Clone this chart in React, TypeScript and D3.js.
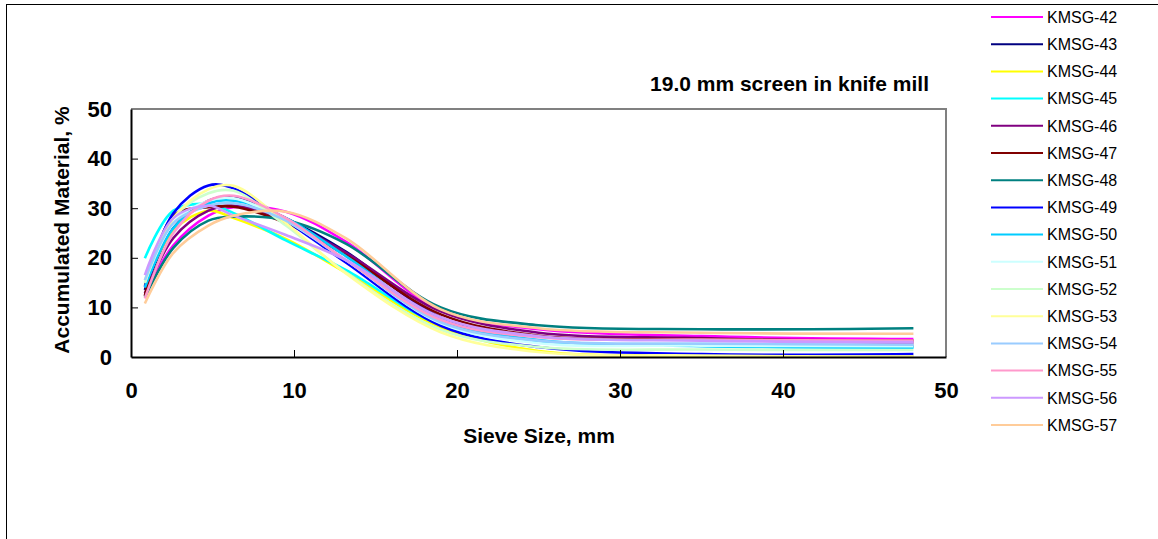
import React, { useRef, useEffect } from "react";
import * as d3 from "d3";

// sieve sizes (mm) where the curves are sampled
const sieveSizes = [0.85, 2.6, 4.75, 6.3, 9.5, 13.2, 19, 25, 35, 48];

const seriesNames = [
  "KMSG-42", "KMSG-43", "KMSG-44", "KMSG-45", "KMSG-46", "KMSG-47", "KMSG-48", "KMSG-49",
  "KMSG-50", "KMSG-51", "KMSG-52", "KMSG-53", "KMSG-54", "KMSG-55", "KMSG-56", "KMSG-57",
];

const seriesColors = [
  "#ff00ff", "#000080", "#ffff00", "#00ffff", "#800080", "#800000", "#008080", "#0000ff",
  "#00ccff", "#ccffff", "#ccffcc", "#ffff99", "#99ccff", "#ff99cc", "#cc99ff", "#ffcc99",
];

const kmsg42 = [12.5, 22.5, 28.5, 30.2, 29.3, 23.2, 9.3, 5.6, 4.2, 3.6];
const kmsg43 = [13.5, 26, 31.5, 32.3, 28, 21.2, 8, 3.2, 2.5, 2.2];
const kmsg44 = [14.5, 25.5, 29.5, 28, 23.8, 17, 6, 1.2, 0.3, 0.1];
const kmsg45 = [19.9, 29.5, 30.8, 29, 23.5, 17.5, 6.5, 3.2, 2.3, 2.0];
const kmsg46 = [12.8, 24, 29.5, 30.5, 27.5, 21, 9.2, 4.9, 3.8, 2.8];
const kmsg47 = [12.3, 28.5, 30.2, 30.3, 27, 20.5, 8.6, 4.3, 3.6, 3.3];
const kmsg48 = [12, 22, 27.5, 28.3, 27.6, 22.8, 10, 6.4, 5.6, 5.8];
const kmsg49 = [14.2, 29, 34.6, 34, 27.5, 19, 6.3, 2.0, 0.6, 0.6];
const kmsg50 = [14, 26, 31, 31.5, 28, 20.3, 7.5, 3.4, 2.2, 1.9];
const kmsg51 = [15, 27, 31.5, 32, 27.5, 19.5, 6.8, 2.8, 2.3, 2.2];
const kmsg52 = [15, 28, 33, 33.5, 26.5, 17, 5.5, 2.0, 1.5, 1.4];
const kmsg53 = [15.5, 28, 33.8, 34.5, 27, 16.8, 5, 1.0, 0.3, 0.1];
const kmsg54 = [15.5, 27, 30.5, 31, 27.5, 19.5, 7, 3.3, 2.7, 2.5];
const kmsg55 = [11.8, 25, 31.5, 32.5, 28, 19.5, 7.5, 4, 3.5, 3.3];
const kmsg56 = [16.5, 28, 30.5, 28.5, 24.6, 19.5, 8, 4.2, 3.3, 3.0];
const kmsg57 = [10.8, 21, 26.5, 28.5, 29.3, 23.9, 9.6, 5.8, 4.9, 4.7];

const seriesValues = [
  kmsg42, kmsg43, kmsg44, kmsg45, kmsg46, kmsg47, kmsg48, kmsg49,
  kmsg50, kmsg51, kmsg52, kmsg53, kmsg54, kmsg55, kmsg56, kmsg57,
];

const xTicks = [0, 10, 20, 30, 40, 50];
const yTicks = [0, 10, 20, 30, 40, 50];

const FONT = "'Liberation Sans', Arial, sans-serif";

function App() {
  const svgRef = useRef(null);
  const width = 1158;
  const height = 539;

  useEffect(() => {
    const svg = d3.select(svgRef.current);
    svg.selectAll("*").remove();

    const xScale = d3.scaleLinear().domain([0, 50]).range([131, 946]);
    const yScale = d3.scaleLinear().domain([0, 50]).range([357, 109]);

    // outer chart frame
    svg
      .append("rect")
      .attr("x", 6.5)
      .attr("y", 4.5)
      .attr("width", width + 20)
      .attr("height", height + 20)
      .attr("fill", "white")
      .attr("stroke", "black")
      .attr("stroke-width", 1);

    // plot area border (top / right grey)
    svg
      .append("path")
      .attr("d", `M${xScale(0)},${yScale(50)}H${xScale(50)}V${yScale(0)}`)
      .attr("fill", "none")
      .attr("stroke", "#808080")
      .attr("stroke-width", 2);

    const line = d3
      .line()
      .x((d) => xScale(d[0]))
      .y((d) => yScale(d[1]))
      .curve(d3.curveCatmullRom.alpha(0.5));

    seriesValues.forEach((vals, i) => {
      svg
        .append("path")
        .datum(vals.map((v, j) => [sieveSizes[j], v]))
        .attr("fill", "none")
        .attr("stroke", seriesColors[i])
        .attr("stroke-width", 2.6)
        .attr("stroke-linejoin", "round")
        .attr("d", line);
    });

    // axes
    const xAxis = svg
      .append("g")
      .attr("transform", `translate(0,${yScale(0)})`)
      .call(d3.axisBottom(xScale).tickValues(xTicks).tickSizeInner(-7).tickSizeOuter(0).tickPadding(25));
    const yAxis = svg
      .append("g")
      .attr("transform", `translate(${xScale(0)},0)`)
      .call(d3.axisLeft(yScale).tickValues(yTicks).tickSizeInner(-7).tickSizeOuter(0).tickPadding(19));

    [xAxis, yAxis].forEach((g) => {
      g.select(".domain").attr("stroke", "black").attr("stroke-width", 2);
      g.selectAll(".tick line").attr("stroke", "black").attr("stroke-width", 1);
      g.selectAll(".tick text")
        .attr("fill", "black")
        .style("font-family", FONT)
        .style("font-size", "22px")
        .style("font-weight", "bold");
    });
    xAxis.selectAll(".tick text").attr("dy", "0.71em");
    xAxis.selectAll(".tick line").filter((d) => d === 0 || d === 50).remove();
    yAxis.selectAll(".tick line").filter((d) => d === 0 || d === 50).remove();

    // axis titles
    svg
      .append("text")
      .attr("x", 539)
      .attr("y", 443)
      .attr("text-anchor", "middle")
      .style("font-family", FONT)
      .style("font-size", "21px")
      .style("font-weight", "bold")
      .text("Sieve Size, mm");
    svg
      .append("text")
      .attr("transform", "translate(69,230) rotate(-90)")
      .attr("text-anchor", "middle")
      .style("font-family", FONT)
      .style("font-size", "21px")
      .style("font-weight", "bold")
      .text("Accumulated Material, %");

    // title
    svg
      .append("text")
      .attr("x", 929)
      .attr("y", 91)
      .attr("text-anchor", "end")
      .style("font-family", FONT)
      .style("font-size", "21px")
      .style("font-weight", "bold")
      .text("19.0 mm screen in knife mill");

    // legend
    const legend = svg.append("g");
    seriesNames.forEach((name, i) => {
      const cy = 17 + i * 27.2;
      legend
        .append("line")
        .attr("x1", 991)
        .attr("x2", 1043)
        .attr("y1", cy)
        .attr("y2", cy)
        .attr("stroke", seriesColors[i])
        .attr("stroke-width", 2);
      legend
        .append("text")
        .attr("x", 1047)
        .attr("y", cy)
        .attr("dy", "0.36em")
        .style("font-family", FONT)
        .style("font-size", "16px")
        .attr("fill", "black")
        .text(name);
    });
  }, []);

  return (
    <div style={{ position: "absolute", left: 0, top: 0 }}>
      <svg ref={svgRef} width={width} height={height} style={{ display: "block" }}></svg>
    </div>
  );
}

export default App;
